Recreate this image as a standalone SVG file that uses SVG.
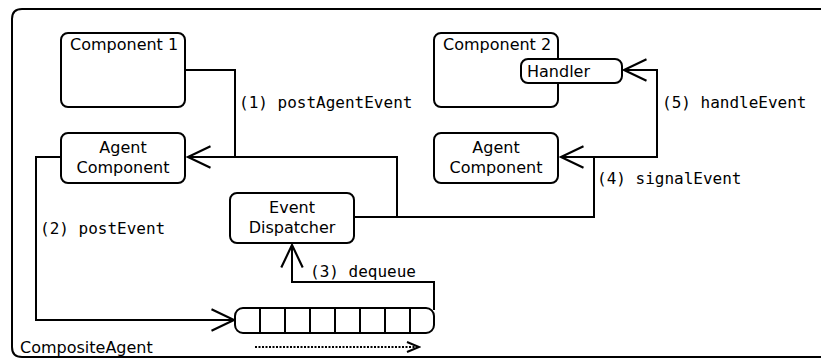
<svg xmlns="http://www.w3.org/2000/svg" width="821" height="358" viewBox="0 0 821 358">
  <style>
    .box { fill: #fff; stroke: #000; stroke-width: 2; }
    .wire { fill: none; stroke: #000; stroke-width: 2; }
    .head { fill: none; stroke: #000; stroke-width: 2; stroke-linejoin: miter; }
    .lbl { font-family: "DejaVu Sans", "Liberation Sans", sans-serif; font-size: 16px; fill: #000; }
    .mid { text-anchor: middle; }
    .code { font-family: "DejaVu Sans Mono", "Liberation Mono", monospace; font-size: 16px; fill: #000; }
  </style>
  <defs>
    <marker id="open" markerUnits="userSpaceOnUse" markerWidth="30" markerHeight="30" viewBox="-24 -12 28 24" refX="0" refY="0" orient="auto">
      <path d="M -21 -10 L 0 0 L -21 10" class="head"/>
    </marker>
    <marker id="small" markerUnits="userSpaceOnUse" markerWidth="16" markerHeight="16" viewBox="-14 -7 16 14" refX="0" refY="0" orient="auto">
      <path d="M -12 -5 L 0 0 L -12 5" class="head"/>
    </marker>
  </defs>

  <!-- CompositeAgent frame -->
  <g id="composite">
    <path d="M 821 9 H 22 Q 12 9 12 19 V 347 Q 12 357 22 357 H 821" class="wire" stroke-width="2.4"/>
    <text x="20" y="353" class="lbl">CompositeAgent</text>
  </g>

  <!-- connectors -->
  <g id="connectors">
    <polyline points="185,70 235,70 235,157 188,157" class="wire" marker-end="url(#open)"/>
    <polyline points="355,217 397,217 397,157 235,157" class="wire"/>
    <polyline points="355,217 594,217 594,157 561,157" class="wire" marker-end="url(#open)"/>
    <polyline points="594,157 657,157 657,70 624,70" class="wire" marker-end="url(#open)"/>
    <polyline points="61,157 36,157 36,320 234,320" class="wire" marker-end="url(#open)"/>
    <polyline points="434,310 434,282 292,282 292,245" class="wire" marker-end="url(#open)"/>
    <line x1="255" y1="347" x2="419" y2="347" stroke="#000" stroke-width="2" stroke-dasharray="2,1.5" marker-end="url(#small)"/>
  </g>

  <!-- labels on connectors -->
  <g id="labels">
    <text x="239" y="108" class="code">(1) postAgentEvent</text>
    <text x="40" y="234" class="code">(2) postEvent</text>
    <text x="310" y="277" class="code">(3) dequeue</text>
    <text x="597" y="184" class="code">(4) signalEvent</text>
    <text x="662" y="108" class="code">(5) handleEvent</text>
  </g>

  <g id="component1">
    <rect x="61" y="33" width="124" height="74" rx="7" class="box"/>
    <text x="70" y="50" class="lbl">Component 1</text>
  </g>

  <g id="agent-component-1">
    <rect x="61" y="133" width="124" height="50" rx="7" class="box"/>
    <text x="123" y="153" class="lbl mid">Agent</text>
    <text x="123" y="173" class="lbl mid">Component</text>
  </g>

  <g id="component2">
    <rect x="434" y="33" width="124" height="74" rx="7" class="box"/>
    <text x="443" y="50" class="lbl">Component 2</text>
  </g>

  <g id="handler">
    <rect x="521" y="59" width="101" height="24" rx="7" class="box"/>
    <text x="527" y="77" class="lbl">Handler</text>
  </g>

  <g id="agent-component-2">
    <rect x="434" y="133" width="124" height="50" rx="7" class="box"/>
    <text x="496" y="153" class="lbl mid">Agent</text>
    <text x="496" y="173" class="lbl mid">Component</text>
  </g>

  <g id="event-dispatcher">
    <rect x="230" y="193" width="124" height="50" rx="7" class="box"/>
    <text x="292" y="213" class="lbl mid">Event</text>
    <text x="292" y="233" class="lbl mid">Dispatcher</text>
  </g>

  <g id="queue">
    <rect x="235" y="308" width="199" height="25" rx="8" class="box"/>
    <path d="M 260 308 V 333 M 285 308 V 333 M 310 308 V 333 M 335 308 V 333 M 360 308 V 333 M 385 308 V 333 M 410 308 V 333" class="wire"/>
  </g>
</svg>
